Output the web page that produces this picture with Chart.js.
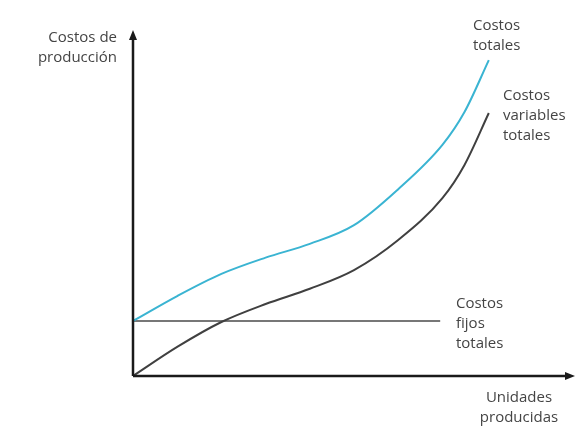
<!DOCTYPE html>
<html>
<head>
<meta charset="utf-8">
<script src="https://cdn.jsdelivr.net/npm/chart.js@4/dist/chart.umd.min.js"></script>
<style>
  html, body { margin: 0; padding: 0; background: #fff; }
  #wrap { width: 578px; height: 427px; }
</style>
</head>
<body>
<div id="wrap"><canvas id="costos"></canvas></div>
<script>
// unidades producidas (eje x, 0..100)
var unidades = [0, 10, 20, 30, 40, 50, 60, 70, 75, 80.5];
// costos (eje y, 0..100)
var costosVariables = [0, 8.4, 15.6, 20.8, 25.2, 30.6, 39.3, 51.4, 61, 76];
var costosTotales = [15.9, 23.1, 29.5, 34.2, 38.2, 43.6, 54, 66.8, 76.3, 91.3];
var costoFijo = 15.9;
var fijoHasta = 69.5;

var etiquetas = {
  yTitulo: ['Costos de', 'producción'],
  xTitulo: ['Unidades', 'producidas'],
  totales: ['Costos', 'totales'],
  variables: ['Costos', 'variables', 'totales'],
  fijos: ['Costos', 'fijos', 'totales']
};

function puntos(xs, ys) {
  return xs.map(function(x, i) { return { x: x, y: ys[i] }; });
}

var ejes = {
  id: 'ejes',
  afterDatasetsDraw: function(chart) {
    var ctx = chart.ctx;
    var a = chart.chartArea;
    var sx = chart.scales.x, sy = chart.scales.y;
    var ox = sx.getPixelForValue(0), oy = sy.getPixelForValue(0);
    ctx.save();
    ctx.strokeStyle = '#1a1a1a';
    ctx.fillStyle = '#1a1a1a';
    ctx.lineWidth = 2.5;
    ctx.beginPath();
    ctx.moveTo(ox, oy);
    ctx.lineTo(ox, a.top + 6);
    ctx.moveTo(ox, oy);
    ctx.lineTo(a.right - 6, oy);
    ctx.stroke();
    // flechas
    ctx.beginPath();
    ctx.moveTo(ox, a.top);
    ctx.lineTo(ox - 4, a.top + 10);
    ctx.lineTo(ox + 4, a.top + 10);
    ctx.closePath();
    ctx.fill();
    ctx.beginPath();
    ctx.moveTo(a.right, oy);
    ctx.lineTo(a.right - 10, oy - 4);
    ctx.lineTo(a.right - 10, oy + 4);
    ctx.closePath();
    ctx.fill();

    // textos
    ctx.font = '15px "Open Sans", sans-serif';
    ctx.fillStyle = '#444';
    ctx.textBaseline = 'middle';
    function bloque(lineas, x, y, align) {
      ctx.textAlign = align;
      lineas.forEach(function(t, i) { ctx.fillText(t, x, y + i * 20); });
    }
    bloque(etiquetas.yTitulo, ox - 16, 38, 'right');
    bloque(etiquetas.xTitulo, 519, oy + 22, 'center');
    bloque(etiquetas.totales, 473, 26, 'left');
    bloque(etiquetas.variables, 503, 96, 'left');
    bloque(etiquetas.fijos, 456, 304, 'left');
    ctx.restore();
  }
};

new Chart(document.getElementById('costos'), {
  type: 'line',
  plugins: [ejes],
  data: {
    datasets: [
      {
        label: 'Costos totales',
        data: puntos(unidades, costosTotales),
        borderColor: '#3ab4d2',
        borderWidth: 2,
        cubicInterpolationMode: 'monotone',
        pointRadius: 0
      },
      {
        label: 'Costos variables totales',
        data: puntos(unidades, costosVariables),
        borderColor: '#404040',
        borderWidth: 2,
        cubicInterpolationMode: 'monotone',
        pointRadius: 0
      },
      {
        label: 'Costos fijos totales',
        data: [{ x: 0, y: costoFijo }, { x: fijoHasta, y: costoFijo }],
        borderColor: '#4a4a4a',
        borderWidth: 1.5,
        pointRadius: 0
      }
    ]
  },
  options: {
    responsive: true,
    maintainAspectRatio: false,
    animation: false,
    layout: { padding: { left: 133, top: 30, right: 3, bottom: 51 } },
    plugins: { legend: { display: false }, tooltip: { enabled: false } },
    scales: {
      x: { type: 'linear', min: 0, max: 100, display: false },
      y: { type: 'linear', min: 0, max: 100, display: false }
    }
  }
});
</script>
</body>
</html>
